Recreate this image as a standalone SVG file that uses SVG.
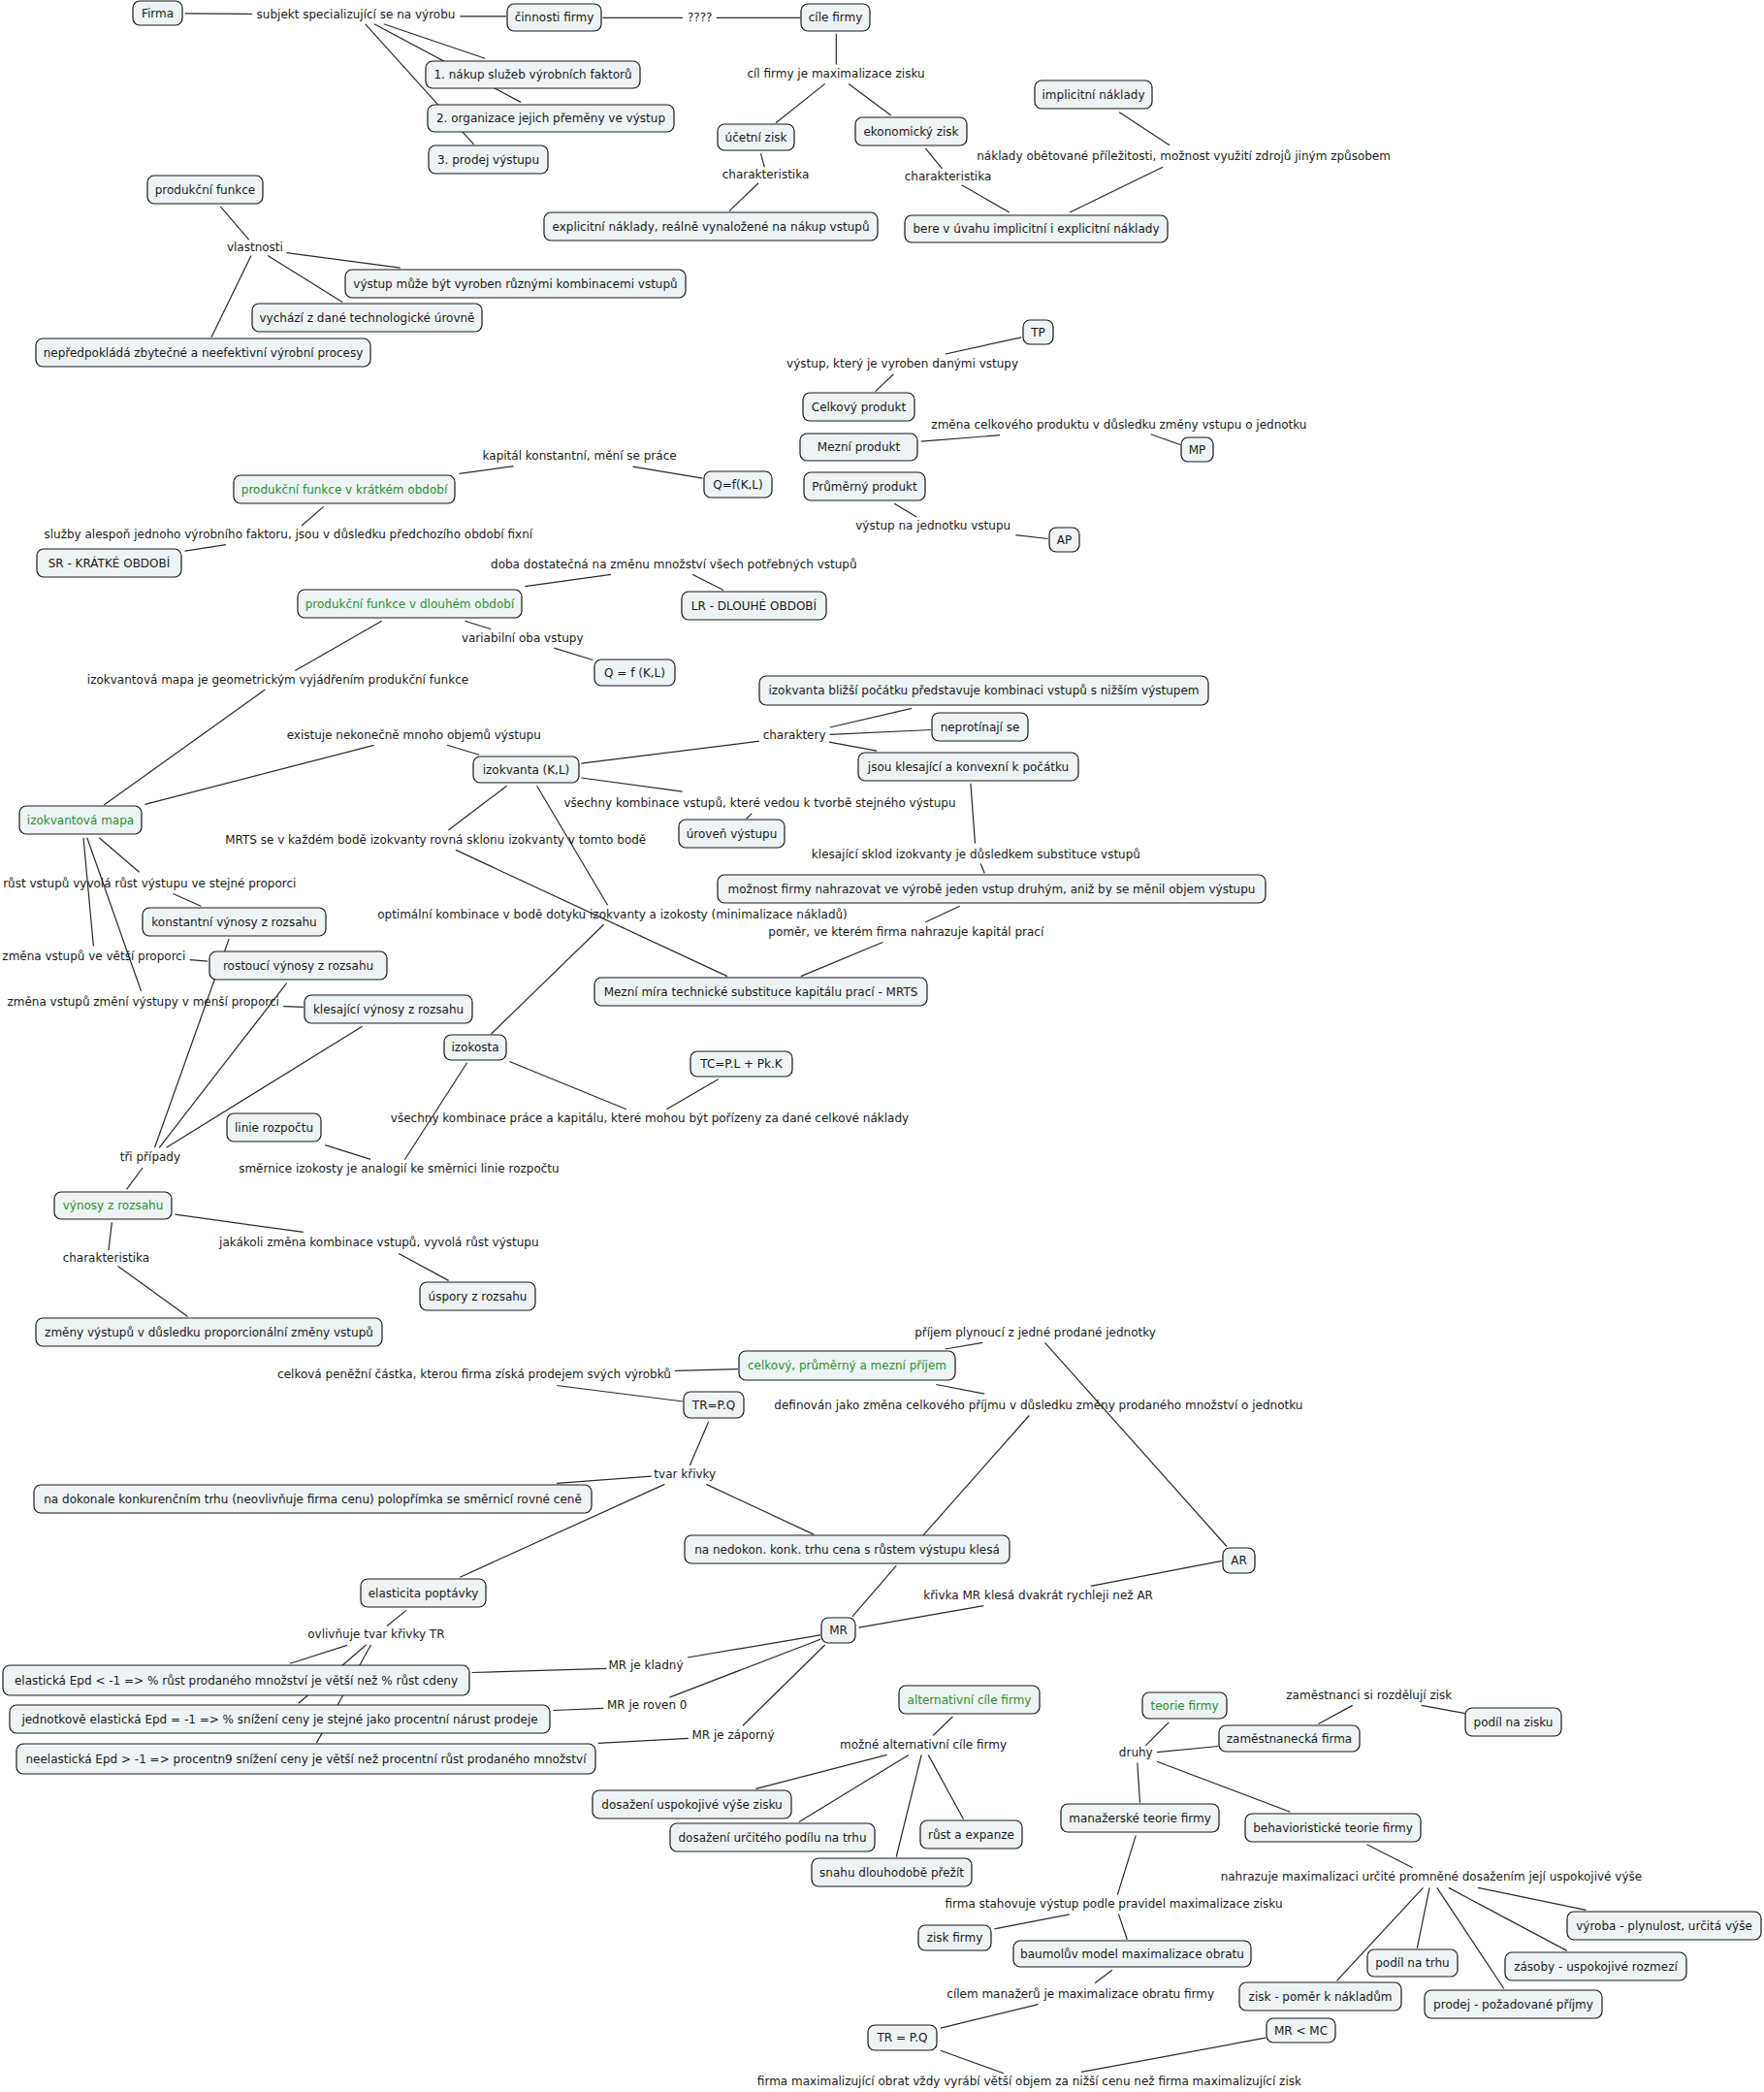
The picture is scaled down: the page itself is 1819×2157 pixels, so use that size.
<svg xmlns="http://www.w3.org/2000/svg" width="1819" height="2157" viewBox="0 0 1819 2157">
<style>
text{font-family:"DejaVu Sans",Verdana,sans-serif;font-size:12px;fill:#1a1a1a;text-anchor:middle}
.n rect{fill:#eef3f5;stroke:#1a1a1a;stroke-width:1.2}
.g text{fill:#2d8f2d}
#connectors line{stroke:#2a2a2a;stroke-width:1.2}
</style>
<rect width="1819" height="2157" fill="#ffffff"/>
<g id="connectors">
<line x1="190.9" y1="13.8" x2="260.2" y2="14.5"/>
<line x1="474.3" y1="16.9" x2="521.9" y2="16.9"/>
<line x1="395.7" y1="24.8" x2="500.2" y2="60.3"/>
<line x1="386" y1="24.8" x2="537" y2="105.4"/>
<line x1="376.7" y1="24.8" x2="488.6" y2="148.8"/>
<line x1="621.5" y1="18.3" x2="703.9" y2="18.3"/>
<line x1="738.8" y1="18.3" x2="825.5" y2="18.3"/>
<line x1="862.3" y1="34.8" x2="862.3" y2="66.5"/>
<line x1="850.7" y1="86.4" x2="800" y2="126.7"/>
<line x1="875.1" y1="86.4" x2="918.8" y2="119.1"/>
<line x1="784.5" y1="158.4" x2="788.3" y2="172.2"/>
<line x1="782.2" y1="188.7" x2="752" y2="217.6"/>
<line x1="954.4" y1="153.2" x2="971.5" y2="173.9"/>
<line x1="991.6" y1="190.8" x2="1040.8" y2="219"/>
<line x1="1154.2" y1="115.7" x2="1206.1" y2="149.8"/>
<line x1="1199.1" y1="172.2" x2="1103.1" y2="219"/>
<line x1="227.3" y1="212.8" x2="256.7" y2="247.2"/>
<line x1="295.4" y1="260.7" x2="412.7" y2="276.2"/>
<line x1="276" y1="263.4" x2="353.1" y2="311.6"/>
<line x1="259" y1="263.4" x2="218" y2="347.8"/>
<line x1="1053.2" y1="347.8" x2="974.9" y2="365"/>
<line x1="921.5" y1="385.7" x2="902.6" y2="403.6"/>
<line x1="949.8" y1="455.2" x2="1031.1" y2="448.7"/>
<line x1="1186.7" y1="447.7" x2="1217" y2="458.5"/>
<line x1="922.3" y1="519.3" x2="945.1" y2="533"/>
<line x1="1047.3" y1="551.7" x2="1080.6" y2="555.5"/>
<line x1="473.5" y1="488.3" x2="529.6" y2="480.7"/>
<line x1="652.5" y1="481.1" x2="724.5" y2="493.1"/>
<line x1="333.7" y1="522.4" x2="311" y2="542"/>
<line x1="233.1" y1="561.7" x2="190.5" y2="568.2"/>
<line x1="541.2" y1="604.7" x2="630" y2="592.3"/>
<line x1="714" y1="592.3" x2="746.1" y2="608.5"/>
<line x1="479.3" y1="640.2" x2="506.4" y2="648.8"/>
<line x1="571.4" y1="668.1" x2="611.4" y2="680.5"/>
<line x1="393.7" y1="640.2" x2="304.3" y2="691.5"/>
<line x1="273.3" y1="711.1" x2="107.2" y2="830"/>
<line x1="149.4" y1="829.3" x2="385.6" y2="768.3"/>
<line x1="461.1" y1="768.3" x2="494" y2="778.3"/>
<line x1="599.3" y1="787.2" x2="782.9" y2="764.2"/>
<line x1="855.7" y1="750" x2="940.1" y2="730.4"/>
<line x1="855.7" y1="757.3" x2="959.9" y2="752.5"/>
<line x1="854.9" y1="765.2" x2="904.1" y2="774.2"/>
<line x1="599.3" y1="802" x2="703.6" y2="816.2"/>
<line x1="775.2" y1="838.9" x2="769.8" y2="844"/>
<line x1="1000.9" y1="807.9" x2="1005.5" y2="869.6"/>
<line x1="1011.3" y1="890.6" x2="1015.2" y2="900.2"/>
<line x1="989.7" y1="934.3" x2="954.4" y2="950.8"/>
<line x1="910.3" y1="971.5" x2="825.9" y2="1006.6"/>
<line x1="522.6" y1="810.3" x2="462.3" y2="856.1"/>
<line x1="470" y1="876.4" x2="750" y2="1006.6"/>
<line x1="553.6" y1="810.3" x2="626.5" y2="933.3"/>
<line x1="622.6" y1="953.2" x2="506.4" y2="1066.2"/>
<line x1="102.2" y1="863.7" x2="143.6" y2="899.2"/>
<line x1="178.5" y1="921.5" x2="207.1" y2="934.3"/>
<line x1="86" y1="863.7" x2="96.4" y2="975.6"/>
<line x1="195.9" y1="989.7" x2="214.1" y2="991.1"/>
<line x1="89.8" y1="863.7" x2="145.6" y2="1022.1"/>
<line x1="292.3" y1="1037.6" x2="312.8" y2="1038.3"/>
<line x1="236.2" y1="968" x2="159.5" y2="1183.3"/>
<line x1="295.8" y1="1013.5" x2="164.2" y2="1183.3"/>
<line x1="373.6" y1="1058.3" x2="171.5" y2="1183.3"/>
<line x1="147.1" y1="1204" x2="130.5" y2="1226.4"/>
<line x1="180.4" y1="1252.2" x2="312.8" y2="1270.4"/>
<line x1="411.1" y1="1292.5" x2="462.6" y2="1320.4"/>
<line x1="115.4" y1="1260.1" x2="111.9" y2="1289.4"/>
<line x1="121.6" y1="1305.6" x2="193.6" y2="1357.6"/>
<line x1="525.4" y1="1094.5" x2="645.9" y2="1143.7"/>
<line x1="740.7" y1="1112.7" x2="687.3" y2="1143.7"/>
<line x1="481.6" y1="1095.8" x2="417.3" y2="1195.7"/>
<line x1="335.3" y1="1180.6" x2="382.1" y2="1195.4"/>
<line x1="974.6" y1="1391" x2="1013.3" y2="1384.4"/>
<line x1="760.9" y1="1411.6" x2="695.8" y2="1413.3"/>
<line x1="574.1" y1="1428.5" x2="704" y2="1445"/>
<line x1="965.3" y1="1427.5" x2="1015.2" y2="1437.1"/>
<line x1="730.7" y1="1465.7" x2="711.3" y2="1511.1"/>
<line x1="671.8" y1="1522.1" x2="574.1" y2="1529.4"/>
<line x1="685.4" y1="1530.4" x2="474.3" y2="1626.2"/>
<line x1="728.3" y1="1530.4" x2="839.1" y2="1582.1"/>
<line x1="1061.3" y1="1459.5" x2="952.1" y2="1582.8"/>
<line x1="1077.5" y1="1384.4" x2="1265" y2="1594.5"/>
<line x1="924.2" y1="1614.4" x2="878.9" y2="1666.9"/>
<line x1="1260" y1="1609.3" x2="1124.8" y2="1635.4"/>
<line x1="1014.4" y1="1655.6" x2="885.5" y2="1678.2"/>
<line x1="846" y1="1685.8" x2="709" y2="1709"/>
<line x1="625.4" y1="1720.3" x2="486.6" y2="1724.5"/>
<line x1="846" y1="1690.2" x2="690.4" y2="1750.1"/>
<line x1="622.3" y1="1761.4" x2="570.3" y2="1763.5"/>
<line x1="850.7" y1="1696" x2="765.9" y2="1779.2"/>
<line x1="709.8" y1="1792.3" x2="616.8" y2="1797.4"/>
<line x1="418.9" y1="1660.4" x2="399.1" y2="1676.5"/>
<line x1="358.1" y1="1696.4" x2="298.9" y2="1715.2"/>
<line x1="377.5" y1="1696" x2="307.8" y2="1756.3"/>
<line x1="382.5" y1="1696" x2="326.4" y2="1797.1"/>
<line x1="982.3" y1="1770" x2="962.2" y2="1789.5"/>
<line x1="914.6" y1="1809.4" x2="779.4" y2="1844.3"/>
<line x1="937" y1="1809.4" x2="824" y2="1878.6"/>
<line x1="950.2" y1="1809.4" x2="924.2" y2="1914.5"/>
<line x1="957.2" y1="1809.4" x2="993.5" y2="1875.8"/>
<line x1="1205.3" y1="1775.8" x2="1181.3" y2="1799.8"/>
<line x1="1193" y1="1806.6" x2="1256.5" y2="1800.5"/>
<line x1="1193" y1="1816.2" x2="1330.5" y2="1868.3"/>
<line x1="1172.8" y1="1817.6" x2="1175.5" y2="1858.7"/>
<line x1="1359.5" y1="1777.5" x2="1394.7" y2="1758.4"/>
<line x1="1465.6" y1="1758.4" x2="1510.9" y2="1766.6"/>
<line x1="1409.4" y1="1901.8" x2="1456.7" y2="1925.8"/>
<line x1="1524" y1="1946.4" x2="1635.5" y2="1969.3"/>
<line x1="1493.8" y1="1946.4" x2="1615.8" y2="2011.4"/>
<line x1="1481.8" y1="1946.4" x2="1550.8" y2="2050.5"/>
<line x1="1474.1" y1="1946.4" x2="1461.3" y2="2008.7"/>
<line x1="1467.5" y1="1946.4" x2="1378.5" y2="2042.3"/>
<line x1="1171.2" y1="1892.6" x2="1152.3" y2="1953.9"/>
<line x1="1102.7" y1="1973.8" x2="1025.3" y2="1988.8"/>
<line x1="1153.4" y1="1973.4" x2="1162.3" y2="1999.8"/>
<line x1="1146.8" y1="2031.3" x2="1129" y2="2044.7"/>
<line x1="1070.6" y1="2066.6" x2="969.9" y2="2091.2"/>
<line x1="969.9" y1="2114.2" x2="1035" y2="2137.8"/>
<line x1="1115.1" y1="2136.4" x2="1304.9" y2="2101.2"/>
</g>
<g id="labels">
<text x="367" y="18.8">subjekt specializující se na výrobu</text>
<text x="721.7" y="22.2">????</text>
<text x="862" y="79.7">cíl firmy je maximalizace zisku</text>
<text x="789.5" y="184.1">charakteristika</text>
<text x="977.5" y="185.8">charakteristika</text>
<text x="1220.6" y="164.8">náklady obětované příležitosti, možnost využití zdrojů jiným způsobem</text>
<text x="262.9" y="259.1">vlastnosti</text>
<text x="930.6" y="379">výstup, který je vyroben danými vstupy</text>
<text x="1153.9" y="441.6">změna celkového produktu v důsledku změny vstupu o jednotku</text>
<text x="597.6" y="473.7">kapitál konstantní, mění se práce</text>
<text x="962.2" y="545.8">výstup na jednotku vstupu</text>
<text x="297.3" y="554.6">služby alespoň jednoho výrobního faktoru, jsou v důsledku předchozího období fixní</text>
<text x="694.8" y="586.3">doba dostatečná na změnu množství všech potřebných vstupů</text>
<text x="538.7" y="662.1">variabilní oba vstupy</text>
<text x="286.5" y="704.8">izokvantová mapa je geometrickým vyjádřením produkční funkce</text>
<text x="426.7" y="761.9">existuje nekonečně mnoho objemů výstupu</text>
<text x="819.1" y="761.9">charaktery</text>
<text x="783.5" y="831.8">všechny kombinace vstupů, které vedou k tvorbě stejného výstupu</text>
<text x="449.2" y="869.7">MRTS se v každém bodě izokvanty rovná sklonu izokvanty v tomto bodě</text>
<text x="1006.4" y="884.5">klesající sklod izokvanty je důsledkem substituce vstupů</text>
<text x="154.3" y="914.5">růst vstupů vyvolá růst výstupu ve stejné proporci</text>
<text x="631.5" y="947.2">optimální kombinace v bodě dotyku izokvanty a izokosty (minimalizace nákladů)</text>
<text x="934.3" y="964.8">poměr, ve kterém firma nahrazuje kapitál prací</text>
<text x="96.8" y="989.5">změna vstupů ve větší proporci</text>
<text x="147.7" y="1036.7">změna vstupů změní výstupy v menší proporci</text>
<text x="670" y="1157">všechny kombinace práce a kapitálu, které mohou být pořízeny za dané celkové náklady</text>
<text x="154.9" y="1196.9">tři případy</text>
<text x="411.4" y="1209">směrnice izokosty je analogií ke směrnici linie rozpočtu</text>
<text x="390.8" y="1285.4">jakákoli změna kombinace vstupů, vyvolá růst výstupu</text>
<text x="109.4" y="1301.3">charakteristika</text>
<text x="1067.5" y="1378">příjem plynoucí z jedné prodané jednotky</text>
<text x="489" y="1421.4">celková peněžní částka, kterou firma získá prodejem svých výrobků</text>
<text x="1070.9" y="1452.8">definován jako změna celkového příjmu v důsledku změny prodaného množství o jednotku</text>
<text x="706.3" y="1523.7">tvar křivky</text>
<text x="1070.6" y="1649">křivka MR klesá dvakrát rychleji než AR</text>
<text x="387.9" y="1689.3">ovlivňuje tvar křivky TR</text>
<text x="666" y="1720.9">MR je kladný</text>
<text x="667.2" y="1762">MR je roven 0</text>
<text x="756" y="1792.8">MR je záporný</text>
<text x="1411.8" y="1751.7">zaměstnanci si rozdělují zisk</text>
<text x="952" y="1802.7">možné alternativní cíle firmy</text>
<text x="1171.3" y="1811.3">druhy</text>
<text x="1475.9" y="1939.3">nahrazuje maximalizaci určité promněné dosažením její uspokojivé výše</text>
<text x="1148.5" y="1966.8">firma stahovuje výstup podle pravidel maximalizace zisku</text>
<text x="1114.2" y="2059.9">cílem manažerů je maximalizace obratu firmy</text>
<text x="1061.4" y="2150">firma maximalizující obrat vždy vyrábí větší objem za nižší cenu než firma maximalizující zisk</text>
</g>
<g id="n1" class="n"><rect x="137" y="1" width="51" height="25" rx="7"/><text x="162.5" y="18">Firma</text></g>
<g id="n2" class="n"><rect x="523" y="4" width="97" height="28" rx="7"/><text x="571.5" y="22.3">činnosti firmy</text></g>
<g id="n3" class="n"><rect x="826" y="4" width="71" height="28" rx="7"/><text x="861.5" y="22.3">cíle firmy</text></g>
<g id="n4" class="n"><rect x="439" y="63" width="221" height="28" rx="7"/><text x="549.5" y="81.3">1. nákup služeb výrobních faktorů</text></g>
<g id="n5" class="n"><rect x="441" y="108" width="254" height="28" rx="7"/><text x="568" y="126.3">2. organizace jejich přeměny ve výstup</text></g>
<g id="n6" class="n"><rect x="442" y="150" width="123" height="29" rx="7"/><text x="503.5" y="168.8">3. prodej výstupu</text></g>
<g id="n7" class="n"><rect x="740" y="128" width="79" height="27" rx="7"/><text x="779.5" y="145.8">účetní zisk</text></g>
<g id="n8" class="n"><rect x="882" y="121" width="115" height="29" rx="7"/><text x="939.5" y="139.8">ekonomický zisk</text></g>
<g id="n9" class="n"><rect x="1067" y="83" width="121" height="29" rx="7"/><text x="1127.5" y="101.8">implicitní náklady</text></g>
<g id="n10" class="n"><rect x="561" y="219" width="344" height="29" rx="7"/><text x="733" y="237.8">explicitní náklady, reálně vynaložené na nákup vstupů</text></g>
<g id="n11" class="n"><rect x="933" y="222" width="271" height="28" rx="7"/><text x="1068.5" y="240.3">bere v úvahu implicitní i explicitní náklady</text></g>
<g id="n12" class="n"><rect x="152" y="181" width="119" height="29" rx="7"/><text x="211.5" y="199.8">produkční funkce</text></g>
<g id="n13" class="n"><rect x="356" y="278" width="351" height="29" rx="7"/><text x="531.5" y="296.8">výstup může být vyroben různými kombinacemi vstupů</text></g>
<g id="n14" class="n"><rect x="260" y="313" width="237" height="29" rx="7"/><text x="378.5" y="331.8">vychází z dané technologické úrovně</text></g>
<g id="n15" class="n"><rect x="37" y="349" width="345" height="29" rx="7"/><text x="209.5" y="367.8">nepředpokládá zbytečné a neefektivní výrobní procesy</text></g>
<g id="n16" class="n"><rect x="1055" y="330" width="31" height="25" rx="7"/><text x="1070.5" y="346.8">TP</text></g>
<g id="n17" class="n"><rect x="828" y="405" width="115" height="29" rx="7"/><text x="885.5" y="423.8">Celkový produkt</text></g>
<g id="n18" class="n"><rect x="825" y="447" width="121" height="28" rx="7"/><text x="885.5" y="465.3">Mezní produkt</text></g>
<g id="n19" class="n"><rect x="829" y="487" width="125" height="29" rx="7"/><text x="891.5" y="505.8">Průměrný produkt</text></g>
<g id="n20" class="n"><rect x="1218" y="451" width="33" height="25" rx="7"/><text x="1234.5" y="467.8">MP</text></g>
<g id="n21" class="n"><rect x="726" y="486" width="70" height="27" rx="7"/><text x="761" y="503.8">Q=f(K,L)</text></g>
<g id="n22" class="n g"><rect x="241" y="490" width="228" height="29" rx="7"/><text x="355" y="508.8">produkční funkce v krátkém období</text></g>
<g id="n23" class="n"><rect x="1082" y="544" width="31" height="25" rx="7"/><text x="1097.5" y="560.8">AP</text></g>
<g id="n24" class="n"><rect x="38" y="566" width="149" height="29" rx="7"/><text x="112.5" y="584.8">SR - KRÁTKÉ OBDOBÍ</text></g>
<g id="n25" class="n g"><rect x="307" y="608" width="231" height="29" rx="7"/><text x="422.5" y="626.8">produkční funkce v dlouhém období</text></g>
<g id="n26" class="n"><rect x="703" y="610" width="149" height="29" rx="7"/><text x="777.5" y="628.8">LR - DLOUHÉ OBDOBÍ</text></g>
<g id="n27" class="n"><rect x="613" y="680" width="83" height="27" rx="7"/><text x="654.5" y="697.8">Q = f (K,L)</text></g>
<g id="n28" class="n"><rect x="783" y="697" width="463" height="30" rx="7"/><text x="1014.5" y="716.3">izokvanta bližší počátku představuje kombinaci vstupů s nižším výstupem</text></g>
<g id="n29" class="n"><rect x="961" y="735" width="99" height="29" rx="7"/><text x="1010.5" y="753.8">neprotínají se</text></g>
<g id="n30" class="n"><rect x="885" y="776" width="227" height="29" rx="7"/><text x="998.5" y="794.8">jsou klesající a konvexní k počátku</text></g>
<g id="n31" class="n"><rect x="488" y="780" width="109" height="27" rx="7"/><text x="542.5" y="797.8">izokvanta (K,L)</text></g>
<g id="n32" class="n g"><rect x="20" y="831" width="126" height="29" rx="7"/><text x="83" y="849.8">izokvantová mapa</text></g>
<g id="n33" class="n"><rect x="700" y="845" width="109" height="29" rx="7"/><text x="754.5" y="863.8">úroveň výstupu</text></g>
<g id="n34" class="n"><rect x="740" y="902" width="565" height="29" rx="7"/><text x="1022.5" y="920.8">možnost firmy nahrazovat ve výrobě jeden vstup druhým, aniž by se měnil objem výstupu</text></g>
<g id="n35" class="n"><rect x="147" y="936" width="189" height="29" rx="7"/><text x="241.5" y="954.8">konstantní výnosy z rozsahu</text></g>
<g id="n36" class="n"><rect x="216" y="981" width="183" height="29" rx="7"/><text x="307.5" y="999.8">rostoucí výnosy z rozsahu</text></g>
<g id="n37" class="n"><rect x="613" y="1008" width="343" height="29" rx="7"/><text x="784.5" y="1026.8">Mezní míra technické substituce kapitálu prací - MRTS</text></g>
<g id="n38" class="n"><rect x="314" y="1026" width="173" height="29" rx="7"/><text x="400.5" y="1044.8">klesající výnosy z rozsahu</text></g>
<g id="n39" class="n"><rect x="458" y="1067" width="64" height="26" rx="7"/><text x="490" y="1084.3">izokosta</text></g>
<g id="n40" class="n"><rect x="712" y="1084" width="105" height="26" rx="7"/><text x="764.5" y="1101.3">TC=P.L + Pk.K</text></g>
<g id="n41" class="n"><rect x="234" y="1148" width="97" height="29" rx="7"/><text x="282.5" y="1166.8">linie rozpočtu</text></g>
<g id="n42" class="n g"><rect x="56" y="1229" width="121" height="28" rx="7"/><text x="116.5" y="1247.3">výnosy z rozsahu</text></g>
<g id="n43" class="n"><rect x="433" y="1322" width="119" height="29" rx="7"/><text x="492.5" y="1340.8">úspory z rozsahu</text></g>
<g id="n44" class="n"><rect x="37" y="1359" width="357" height="29" rx="7"/><text x="215.5" y="1377.8">změny výstupů v důsledku proporcionální změny vstupů</text></g>
<g id="n45" class="n g"><rect x="762" y="1393" width="223" height="30" rx="7"/><text x="873.5" y="1412.3">celkový, průměrný a mezní příjem</text></g>
<g id="n46" class="n"><rect x="705" y="1435" width="62" height="27" rx="7"/><text x="736" y="1452.8">TR=P.Q</text></g>
<g id="n47" class="n"><rect x="35" y="1531" width="575" height="29" rx="7"/><text x="322.5" y="1549.8">na dokonale konkurenčním trhu (neovlivňuje firma cenu) polopřímka se směrnicí rovné ceně</text></g>
<g id="n48" class="n"><rect x="706" y="1583" width="335" height="29" rx="7"/><text x="873.5" y="1601.8">na nedokon. konk. trhu cena s růstem výstupu klesá</text></g>
<g id="n49" class="n"><rect x="1261" y="1596" width="33" height="26" rx="7"/><text x="1277.5" y="1613.3">AR</text></g>
<g id="n50" class="n"><rect x="372" y="1628" width="129" height="29" rx="7"/><text x="436.5" y="1646.8">elasticita poptávky</text></g>
<g id="n51" class="n"><rect x="847" y="1668" width="35" height="26" rx="7"/><text x="864.5" y="1685.3">MR</text></g>
<g id="n52" class="n"><rect x="3" y="1717" width="481" height="31" rx="7"/><text x="243.5" y="1736.8">elastická Epd &lt; -1 =&gt; % růst prodaného množství je větší než % růst cdeny</text></g>
<g id="n53" class="n"><rect x="10" y="1758" width="557" height="29" rx="7"/><text x="288.5" y="1776.8">jednotkově elastická Epd = -1 =&gt; % snížení ceny je stejné jako procentní nárust prodeje</text></g>
<g id="n54" class="n"><rect x="17" y="1798" width="597" height="31" rx="7"/><text x="315.5" y="1817.8">neelastická Epd &gt; -1 =&gt; procentn9 snížení ceny je větší než procentní růst prodaného množství</text></g>
<g id="n55" class="n g"><rect x="927" y="1738" width="145" height="29" rx="7"/><text x="999.5" y="1756.8">alternativní cíle firmy</text></g>
<g id="n56" class="n g"><rect x="1178" y="1745" width="87" height="27" rx="7"/><text x="1221.5" y="1762.8">teorie firmy</text></g>
<g id="n57" class="n"><rect x="1511" y="1761" width="99" height="29" rx="7"/><text x="1560.5" y="1779.8">podíl na zisku</text></g>
<g id="n58" class="n"><rect x="1257" y="1779" width="145" height="27" rx="7"/><text x="1329.5" y="1796.8">zaměstnanecká firma</text></g>
<g id="n59" class="n"><rect x="611" y="1846" width="205" height="29" rx="7"/><text x="713.5" y="1864.8">dosažení uspokojivé výše zisku</text></g>
<g id="n60" class="n"><rect x="1094" y="1860" width="163" height="29" rx="7"/><text x="1175.5" y="1878.8">manažerské teorie firmy</text></g>
<g id="n61" class="n"><rect x="1284" y="1870" width="181" height="29" rx="7"/><text x="1374.5" y="1888.8">behavioristické teorie firmy</text></g>
<g id="n62" class="n"><rect x="949" y="1877" width="105" height="29" rx="7"/><text x="1001.5" y="1895.8">růst a expanze</text></g>
<g id="n63" class="n"><rect x="691" y="1880" width="211" height="29" rx="7"/><text x="796.5" y="1898.8">dosažení určitého podílu na trhu</text></g>
<g id="n64" class="n"><rect x="837" y="1916" width="165" height="29" rx="7"/><text x="919.5" y="1934.8">snahu dlouhodobě přežít</text></g>
<g id="n65" class="n"><rect x="1616" y="1971" width="200" height="29" rx="7"/><text x="1716" y="1989.8">výroba - plynulost, určitá výše</text></g>
<g id="n66" class="n"><rect x="947" y="1985" width="75" height="26" rx="7"/><text x="984.5" y="2002.3">zisk firmy</text></g>
<g id="n67" class="n"><rect x="1045" y="2001" width="245" height="27" rx="7"/><text x="1167.5" y="2018.8">baumolův model maximalizace obratu</text></g>
<g id="n68" class="n"><rect x="1410" y="2010" width="93" height="28" rx="7"/><text x="1456.5" y="2028.3">podíl na trhu</text></g>
<g id="n69" class="n"><rect x="1552" y="2013" width="187" height="29" rx="7"/><text x="1645.5" y="2031.8">zásoby - uspokojivé rozmezí</text></g>
<g id="n70" class="n"><rect x="1278" y="2044" width="167" height="29" rx="7"/><text x="1361.5" y="2062.8">zisk - poměr k nákladům</text></g>
<g id="n71" class="n"><rect x="1469" y="2052" width="183" height="29" rx="7"/><text x="1560.5" y="2070.8">prodej - požadované příjmy</text></g>
<g id="n72" class="n"><rect x="1306" y="2081" width="71" height="25" rx="7"/><text x="1341.5" y="2097.8">MR &lt; MC</text></g>
<g id="n73" class="n"><rect x="895" y="2088" width="71" height="26" rx="7"/><text x="930.5" y="2105.3">TR = P.Q</text></g>
</svg>
